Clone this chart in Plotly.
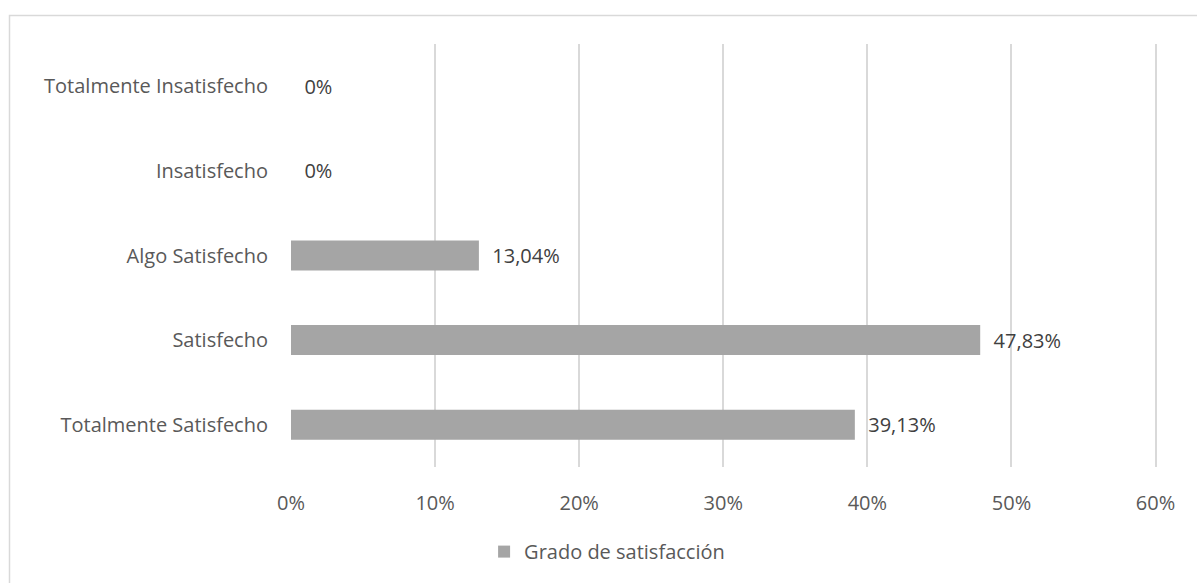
import plotly.graph_objects as go

categories = ["Totalmente Satisfecho", "Satisfecho", "Algo Satisfecho", "Insatisfecho", "Totalmente Insatisfecho"]
values = [39.13, 47.83, 13.04, 0, 0]
series_name = "Grado de satisfacción"
tick_vals = [0, 10, 20, 30, 40, 50, 60]
tick_text = ["0%", "10%", "20%", "30%", "40%", "50%", "60%"]

labels = ["\u00a0\u00a0" + (("%.2f" % v).replace(".", ",") + "%" if v else "0%") for v in values]

FONT = "Open Sans"
TXT = "#595959"
SIZE = 20

fig = go.Figure()
fig.add_trace(go.Bar(
    y=categories, x=values, orientation="h", name=series_name,
    marker=dict(color="#a5a5a5", line=dict(width=0)),
    text=labels, textposition="outside", cliponaxis=False,
    textfont=dict(family=FONT, size=SIZE, color="#404040"),
    width=0.355, showlegend=True,
))

fig.update_layout(
    width=1197, height=583,
    margin=dict(l=291, r=40, t=44, b=116),
    paper_bgcolor="white", plot_bgcolor="white",
    font=dict(family=FONT, size=SIZE, color=TXT),
    legend=dict(orientation="h", x=0.365, xanchor="center", y=-0.2, yanchor="middle",
                font=dict(family=FONT, size=SIZE, color=TXT), itemwidth=30),
    shapes=[dict(type="rect", xref="paper", yref="paper",
                 x0=(9.5 - 291) / 866, x1=1.2, y0=-0.5, y1=(467 - 15.5) / 423,
                 line=dict(color="#d9d9d9", width=1.5), layer="below")],
)
fig.update_xaxes(range=[0, 60.1], tickmode="array", tickvals=tick_vals, ticktext=tick_text,
                 showgrid=True, gridcolor="#d9d9d9", gridwidth=1.5,
                 zeroline=False, showline=False, ticks="", ticklabelstandoff=22,
                 tickfont=dict(family=FONT, size=SIZE, color=TXT))
fig.update_yaxes(categoryorder="array", categoryarray=categories,
                 showgrid=False, zeroline=False, showline=False, ticks="",
                 ticklabelstandoff=22,
                 tickfont=dict(family=FONT, size=SIZE, color=TXT))

fig.write_html("out.html")
